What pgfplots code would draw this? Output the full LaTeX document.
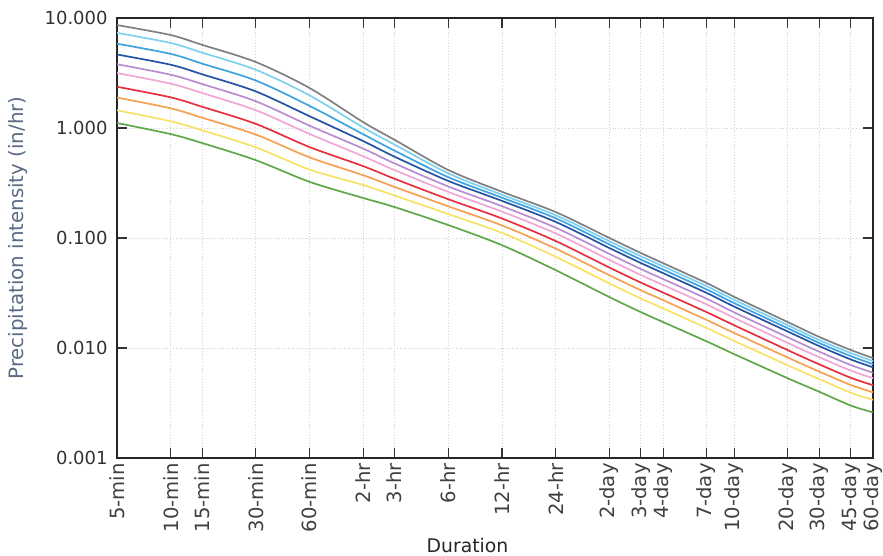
\documentclass[border=0pt]{standalone}
\usepackage{fontspec}
\setmainfont{DejaVu Sans}
\usepackage{pgfplots}
\usepackage{pgfplotstable}
\pgfplotsset{compat=1.18}

\definecolor{ari1000}{HTML}{808080}
\definecolor{ari500}{HTML}{7ED0F0}
\definecolor{ari200}{HTML}{3EA2E0}
\definecolor{ari100}{HTML}{2452A4}
\definecolor{ari50}{HTML}{B88CD0}
\definecolor{ari25}{HTML}{F2A6D6}
\definecolor{ari10}{HTML}{E63040}
\definecolor{ari5}{HTML}{F6A050}
\definecolor{ari2}{HTML}{F6E266}
\definecolor{ari1}{HTML}{5EA84A}
\definecolor{ylab}{HTML}{5A6A82}

% duration in minutes, intensity in in/hr per return period
\pgfplotstableread{
min   a1000  a500   a200   a100   a50    a25    a10    a5     a2     a1
5     8.63   7.32   5.84   4.66   3.80   3.16   2.37   1.89   1.45   1.11
10    7.00   5.93   4.72   3.76   3.05   2.53   1.90   1.51   1.15   0.88
15    5.70   4.84   3.85   3.08   2.51   2.08   1.56   1.24   0.953  0.73
30    3.98   3.38   2.70   2.15   1.75   1.45   1.09   0.871  0.667  0.51
60    2.31   1.98   1.59   1.28   1.05   0.883  0.671  0.541  0.419  0.324
120   1.13   1.01   0.877  0.760  0.649  0.553  0.450  0.372  0.303  0.231
180   0.78   0.706  0.622  0.548  0.476  0.414  0.345  0.291  0.243  0.191
360   0.415  0.387  0.357  0.330  0.294  0.262  0.225  0.194  0.165  0.131
720   0.263  0.247  0.2325 0.2175 0.1945 0.1738 0.1503 0.130  0.1112 0.086
1440  0.172  0.161  0.151  0.140  0.124  0.110  0.0938 0.080  0.0675 0.051
2880  0.100  0.0934 0.0873 0.081  0.0716 0.0632 0.0538 0.0458 0.0386 0.029
4320  0.073  0.0682 0.0637 0.0592 0.0522 0.0461 0.0393 0.0335 0.0282 0.0212
5760  0.059  0.0552 0.0516 0.0479 0.0423 0.0374 0.0319 0.0272 0.0229 0.0172
10080 0.039  0.0365 0.0341 0.0317 0.0281 0.0249 0.0212 0.0180 0.0152 0.0115
14400 0.0292 0.0274 0.0256 0.0238 0.0211 0.0188 0.0161 0.0137 0.0116 0.0088
28800 0.0172 0.0161 0.0151 0.0141 0.0125 0.0111 0.00955 0.00818 0.00695 0.0053
43200 0.0126 0.0118 0.0111 0.0104 0.00925 0.00824 0.0071 0.0061 0.00521 0.0040
64800 0.0096 0.0090 0.00844 0.00787 0.00701 0.00624 0.00536 0.00461 0.00392 0.0030
86400 0.0081 0.0076 0.00714 0.00668 0.00596 0.00532 0.00459 0.00396 0.00338 0.0026
}\idf

\begin{document}
\begin{tikzpicture}
\begin{axis}[
    scale only axis,
    width=378pt, height=220pt,
    xmode=log, ymode=log,
    xmin=5, xmax=86400,
    ymin=0.001, ymax=10,
    xtick={5,10,15,30,60,120,180,360,720,1440,2880,4320,5760,10080,14400,28800,43200,64800,86400},
    xticklabels={5-min,10-min,15-min,30-min,60-min,2-hr,3-hr,6-hr,12-hr,24-hr,2-day,3-day,4-day,7-day,10-day,20-day,30-day,45-day,60-day},
    xminorticks=false, yminorticks=false,
    ytick={0.001,0.01,0.1,1,10},
    yticklabels={0.001,0.010,0.100,1.000,10.000},
    x tick label style={rotate=90, anchor=east, font=\fontsize{9.8}{10}\selectfont, text=black!75, inner sep=2.5pt},
    y tick label style={font=\fontsize{9}{10}\selectfont, text=black!80, inner sep=4.5pt},
    tick align=inside,
    major tick length=5pt,
    tick style={black!80, line width=0.6pt},
    axis line style={black!85, line width=0.8pt},
    grid=major,
    major grid style={densely dotted, black!18, line width=0.4pt},
    xlabel={Duration},
    ylabel={Precipitation intensity (in/hr)},
    every axis x label/.style={at={(axis description cs:0.5,0)}, anchor=center,
        yshift=-43.5pt, xshift=-13.75pt, font=\fontsize{9.4}{10}\selectfont, text=black!85},
    every axis y label/.style={at={(axis description cs:0,0.5)}, xshift=-49.5pt,
        rotate=90, anchor=center, font=\fontsize{9.9}{11}\selectfont, text=ylab},
    every axis plot/.append style={line width=0.85pt, smooth, tension=0.5, mark=none},
]
\addplot[ari1]    table[x=min, y=a1]    {\idf};
\addplot[ari2]    table[x=min, y=a2]    {\idf};
\addplot[ari5]    table[x=min, y=a5]    {\idf};
\addplot[ari10]   table[x=min, y=a10]   {\idf};
\addplot[ari25]   table[x=min, y=a25]   {\idf};
\addplot[ari50]   table[x=min, y=a50]   {\idf};
\addplot[ari100]  table[x=min, y=a100]  {\idf};
\addplot[ari200]  table[x=min, y=a200]  {\idf};
\addplot[ari500]  table[x=min, y=a500]  {\idf};
\addplot[ari1000] table[x=min, y=a1000] {\idf};
\end{axis}
\pgfresetboundingbox
\path[use as bounding box] ([shift={(-58.5pt,-49pt)}]current axis.south west)
    rectangle ([shift={(5pt,9pt)}]current axis.north east);
\end{tikzpicture}
\end{document}
